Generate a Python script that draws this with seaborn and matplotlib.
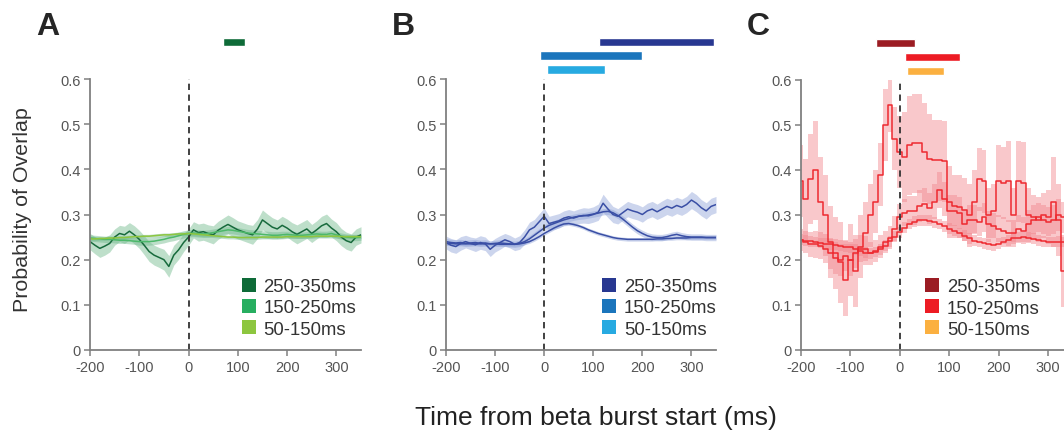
"""
Probability of overlap around beta burst onset, three panels (A/B/C),
one line per burst-duration window with SEM band and significance bars.
"""

import numpy as np
import pandas as pd
import matplotlib
matplotlib.use("Agg")
import matplotlib.pyplot as plt
from matplotlib.patches import Patch
import seaborn as sns

sns.set_theme(style="ticks")
plt.rcParams["font.family"] = ["Liberation Sans", "DejaVu Sans"]
plt.rcParams["axes.unicode_minus"] = False

# ---------------------------------------------------------------- data
time_ms = list(range(-200, 351, 10))
windows = ["250-350ms", "150-250ms", "50-150ms"]

x_ticks = [-200, -100, 0, 100, 200, 300]
y_ticks = [0, 0.1, 0.2, 0.3, 0.4, 0.5, 0.6]
y_tick_labels = ["0", "0.1", "0.2", "0.3", "0.4", "0.5", "0.6"]

# panel A (green)
a_250 = [0.240, 0.232, 0.225, 0.230, 0.236, 0.250, 0.258, 0.255, 0.263, 0.255,
         0.245, 0.232, 0.218, 0.210, 0.205, 0.200, 0.185, 0.210, 0.222, 0.238,
         0.250, 0.266, 0.260, 0.262, 0.258, 0.255, 0.265, 0.272, 0.278, 0.272,
         0.266, 0.262, 0.258, 0.255, 0.268, 0.288, 0.280, 0.272, 0.268, 0.276,
         0.270, 0.262, 0.256, 0.262, 0.268, 0.258, 0.266, 0.275, 0.280, 0.270,
         0.262, 0.250, 0.242, 0.238, 0.250, 0.255]
a_250_sem = [0.018, 0.019, 0.020, 0.020, 0.019, 0.018, 0.018, 0.019, 0.019, 0.020,
             0.020, 0.021, 0.022, 0.022, 0.022, 0.023, 0.024, 0.022, 0.021, 0.020,
             0.018, 0.018, 0.019, 0.019, 0.019, 0.020, 0.020, 0.020, 0.021, 0.021,
             0.020, 0.020, 0.020, 0.021, 0.021, 0.022, 0.021, 0.021, 0.020, 0.020,
             0.020, 0.020, 0.021, 0.021, 0.021, 0.020, 0.020, 0.021, 0.021, 0.020,
             0.020, 0.019, 0.019, 0.019, 0.018, 0.018]
a_150 = [0.248, 0.247, 0.246, 0.245, 0.245, 0.244, 0.243, 0.243, 0.242, 0.241,
         0.240, 0.240, 0.240, 0.241, 0.243, 0.245, 0.248, 0.250, 0.253, 0.256,
         0.258, 0.259, 0.258, 0.257, 0.258, 0.260, 0.262, 0.264, 0.266, 0.265,
         0.263, 0.261, 0.259, 0.258, 0.257, 0.256, 0.255, 0.254, 0.254, 0.255,
         0.256, 0.255, 0.254, 0.254, 0.255, 0.256, 0.257, 0.256, 0.256, 0.258,
         0.255, 0.252, 0.250, 0.249, 0.249, 0.250]
a_150_sem = [0.007] * 10 + [0.008] * 10 + [0.008] * 20 + [0.007] * 16
a_50 = [0.246, 0.246, 0.247, 0.247, 0.248, 0.248, 0.249, 0.249, 0.250, 0.251,
        0.251, 0.252, 0.252, 0.253, 0.254, 0.255, 0.255, 0.256, 0.257, 0.257,
        0.258, 0.257, 0.256, 0.255, 0.254, 0.253, 0.252, 0.251, 0.250, 0.250,
        0.249, 0.249, 0.249, 0.249, 0.249, 0.250, 0.250, 0.250, 0.250, 0.250,
        0.251, 0.251, 0.251, 0.251, 0.251, 0.251, 0.252, 0.252, 0.252, 0.252,
        0.252, 0.251, 0.251, 0.251, 0.251, 0.251]
a_50_sem = [0.004] * 56

# panel B (blue)
b_250 = [0.238, 0.232, 0.229, 0.236, 0.240, 0.236, 0.233, 0.238, 0.235, 0.223,
         0.232, 0.238, 0.244, 0.240, 0.234, 0.238, 0.250, 0.266, 0.272, 0.284,
         0.296, 0.280, 0.283, 0.286, 0.292, 0.295, 0.292, 0.296, 0.298, 0.297,
         0.300, 0.305, 0.325, 0.312, 0.300, 0.296, 0.304, 0.312, 0.308, 0.305,
         0.300, 0.308, 0.312, 0.306, 0.312, 0.318, 0.314, 0.320, 0.316, 0.322,
         0.332, 0.325, 0.315, 0.308, 0.318, 0.322]
b_250_sem = [0.014, 0.015, 0.015, 0.015, 0.014, 0.014, 0.015, 0.015, 0.015, 0.016,
             0.015, 0.015, 0.014, 0.014, 0.014, 0.015, 0.016, 0.017, 0.017, 0.018,
             0.018, 0.016, 0.016, 0.016, 0.016, 0.016, 0.016, 0.016, 0.017, 0.017,
             0.017, 0.018, 0.020, 0.019, 0.018, 0.017, 0.017, 0.017, 0.017, 0.017,
             0.017, 0.017, 0.017, 0.017, 0.018, 0.018, 0.018, 0.018, 0.018, 0.018,
             0.019, 0.019, 0.018, 0.018, 0.018, 0.018]
b_150 = [0.240, 0.238, 0.237, 0.238, 0.236, 0.237, 0.238, 0.236, 0.237, 0.235,
         0.236, 0.237, 0.236, 0.235, 0.234, 0.236, 0.240, 0.246, 0.254, 0.262,
         0.270, 0.276, 0.280, 0.284, 0.288, 0.291, 0.294, 0.296, 0.297, 0.299,
         0.301, 0.303, 0.306, 0.307, 0.304, 0.298, 0.290, 0.281, 0.272, 0.264,
         0.258, 0.253, 0.250, 0.249, 0.249, 0.251, 0.254, 0.256, 0.253, 0.251,
         0.250, 0.250, 0.250, 0.249, 0.249, 0.249]
b_150_sem = [0.007] * 56
b_50 = [0.236, 0.236, 0.235, 0.235, 0.235, 0.235, 0.235, 0.235, 0.235, 0.235,
        0.235, 0.234, 0.234, 0.234, 0.234, 0.235, 0.237, 0.240, 0.245, 0.251,
        0.258, 0.264, 0.270, 0.275, 0.279, 0.280, 0.278, 0.275, 0.271, 0.266,
        0.262, 0.258, 0.255, 0.252, 0.249, 0.247, 0.246, 0.245, 0.245, 0.245,
        0.245, 0.245, 0.245, 0.246, 0.246, 0.247, 0.247, 0.248, 0.248, 0.248,
        0.249, 0.249, 0.249, 0.249, 0.249, 0.249]
b_50_sem = [0.004] * 56

# panel C (red)
c_250 = [0.375, 0.335, 0.380, 0.400, 0.330, 0.300, 0.240, 0.215, 0.195, 0.155,
         0.200, 0.175, 0.230, 0.260, 0.300, 0.330, 0.390, 0.500, 0.545, 0.470,
         0.440, 0.430, 0.455, 0.460, 0.460, 0.440, 0.425, 0.422, 0.422, 0.420,
         0.330, 0.320, 0.318, 0.312, 0.300, 0.330, 0.380, 0.375, 0.300, 0.310,
         0.375, 0.372, 0.375, 0.300, 0.375, 0.372, 0.300, 0.295, 0.290, 0.300,
         0.295, 0.330, 0.290, 0.175, 0.250, 0.300]
c_250_sem = [0.08, 0.09, 0.10, 0.11, 0.10, 0.09, 0.08, 0.08, 0.09, 0.08,
             0.08, 0.08, 0.07, 0.07, 0.07, 0.07, 0.07, 0.08, 0.06, 0.07,
             0.08, 0.10, 0.11, 0.11, 0.11, 0.11, 0.10, 0.09, 0.09, 0.09,
             0.08, 0.07, 0.07, 0.07, 0.07, 0.07, 0.07, 0.07, 0.06, 0.06,
             0.08, 0.08, 0.09, 0.06, 0.09, 0.09, 0.06, 0.05, 0.05, 0.05,
             0.06, 0.10, 0.08, 0.08, 0.07, 0.06]
c_150 = [0.245, 0.240, 0.235, 0.235, 0.232, 0.225, 0.215, 0.205, 0.200, 0.210,
         0.200, 0.215, 0.225, 0.225, 0.215, 0.220, 0.230, 0.240, 0.250, 0.270,
         0.295, 0.305, 0.310, 0.310, 0.320, 0.325, 0.315, 0.330, 0.355, 0.335,
         0.310, 0.310, 0.305, 0.280, 0.290, 0.290, 0.285, 0.295, 0.280, 0.275,
         0.270, 0.265, 0.260, 0.260, 0.270, 0.265, 0.280, 0.290, 0.295, 0.290,
         0.285, 0.290, 0.300, 0.295, 0.290, 0.300]
c_150_sem = [0.025, 0.025, 0.028, 0.030, 0.030, 0.032, 0.035, 0.035, 0.035, 0.035,
             0.035, 0.032, 0.030, 0.028, 0.025, 0.025, 0.025, 0.025, 0.025, 0.028,
             0.030, 0.030, 0.032, 0.032, 0.035, 0.035, 0.035, 0.038, 0.040, 0.038,
             0.035, 0.035, 0.035, 0.032, 0.032, 0.032, 0.032, 0.032, 0.030, 0.030,
             0.030, 0.030, 0.030, 0.030, 0.030, 0.030, 0.032, 0.032, 0.032, 0.032,
             0.032, 0.032, 0.035, 0.035, 0.035, 0.035]
c_50 = [0.245, 0.243, 0.242, 0.240, 0.238, 0.236, 0.235, 0.234, 0.232, 0.230,
        0.228, 0.224, 0.220, 0.216, 0.215, 0.218, 0.224, 0.232, 0.242, 0.252,
        0.262, 0.272, 0.280, 0.285, 0.288, 0.288, 0.287, 0.284, 0.280, 0.275,
        0.270, 0.265, 0.260, 0.254, 0.248, 0.243, 0.240, 0.237, 0.235, 0.233,
        0.236, 0.240, 0.244, 0.248, 0.250, 0.251, 0.250, 0.247, 0.244, 0.242,
        0.240, 0.240, 0.241, 0.240, 0.239, 0.240]
c_50_sem = [0.012] * 56

# significant windows (start, end) in ms, per duration window
a_sig = {"250-350ms": (70, 115)}
b_sig = {"250-350ms": (112, 346), "150-250ms": (-8, 199), "50-150ms": (6, 124)}
c_sig = {"250-350ms": (-48, 31), "150-250ms": (10, 122), "50-150ms": (15, 89)}

# ---------------------------------------------------------------- style
panels = [
    dict(letter="A", means=[a_250, a_150, a_50], sems=[a_250_sem, a_150_sem, a_50_sem],
         sig=a_sig, legend=["#0e6b38", "#27ae60", "#8dc63f"],
         lines=["#176a3c", "#4cb86a", "#8dc63f"], band="#6fb98b", steps=False,
         rect=[90, 80, 271], leg_x=0.56),
    dict(letter="B", means=[b_250, b_150, b_50], sems=[b_250_sem, b_150_sem, b_50_sem],
         sig=b_sig, legend=["#283891", "#1b75bc", "#27aae1"],
         lines=["#3a4fa5", "#3a4fa5", "#3a4fa5"], band="#8fa2d8", steps=False,
         rect=[446, 80, 270], leg_x=0.578),
    dict(letter="C", means=[c_250, c_150, c_50], sems=[c_250_sem, c_150_sem, c_50_sem],
         sig=c_sig, legend=["#9b1c23", "#ed1c24", "#fbb040"],
         lines=["#ee2a30", "#ee2a30", "#ee2a30"], band="#f2868d", steps=True,
         rect=[801, 81, 272], leg_x=0.456),
]
sig_rows = {"250-350ms": 0.682, "150-250ms": 0.652, "50-150ms": 0.621}

W, H = 1064, 435
fig = plt.figure(figsize=(W / 100, H / 100), dpi=100)

for p in panels:
    left, top, width = p["rect"]
    bottom = 351
    ax = fig.add_axes([left / W, (H - bottom) / H, width / W, (bottom - top) / H])

    for mean, sem, lc in zip(p["means"], p["sems"], p["lines"]):
        df = pd.DataFrame({"t": time_ms, "p": mean, "s": sem})
        lo = df["p"] - df["s"]
        hi = df["p"] + df["s"]
        step = "mid" if p["steps"] else None
        ax.fill_between(df["t"], lo, hi, color=p["band"], alpha=0.45,
                        lw=0, step=step)
        sns.lineplot(data=df, x="t", y="p", ax=ax, color=lc, lw=1.1,
                     drawstyle="steps-mid" if p["steps"] else "default")

    ax.vlines(0, 0, 0.6, colors="#333333", linestyles=(0, (3.5, 2.5)), lw=1.3)

    for name, color in zip(windows, p["legend"]):
        if name in p["sig"]:
            start, end = p["sig"][name]
            ax.barh(sig_rows[name], end - start, left=start, height=0.018,
                    color=color, clip_on=False)

    ax.set_xlim(-200, 350)
    ax.set_ylim(0, 0.6)
    ax.set_xticks(x_ticks)
    ax.set_yticks(y_ticks)
    ax.set_yticklabels(y_tick_labels)
    ax.set_xlabel("")
    ax.set_ylabel("")
    sns.despine(ax=ax)
    for side in ["left", "bottom"]:
        ax.spines[side].set_color("#808080")
        ax.spines[side].set_linewidth(1.3)
    ax.tick_params(labelsize=10.5, colors="#808080", labelcolor="#555555",
                   length=4, width=1.1, pad=3)

    handles = [Patch(facecolor=c, edgecolor="none") for c in p["legend"]]
    ax.legend(handles, windows, loc="lower left", bbox_to_anchor=(p["leg_x"], 0.046),
              frameon=False, fontsize=13.3, handlelength=0.78, handleheight=0.78,
              handletextpad=0.4, labelspacing=0.2, borderpad=0, borderaxespad=0,
              labelcolor="#333333")

    fig.text((left - 54) / W, (H - 35) / H, p["letter"], fontsize=23,
             fontweight="bold", ha="left", va="baseline")

fig.text(23 / W, (H - 210) / H, "Probability of Overlap", rotation=90,
         fontsize=15.4, ha="center", va="center", color="#333333")
fig.text(596 / W, (H - 418) / H, "Time from beta burst start (ms)",
         fontsize=19, ha="center", va="center", color="#222222")

fig.savefig("out.png", dpi=100)
